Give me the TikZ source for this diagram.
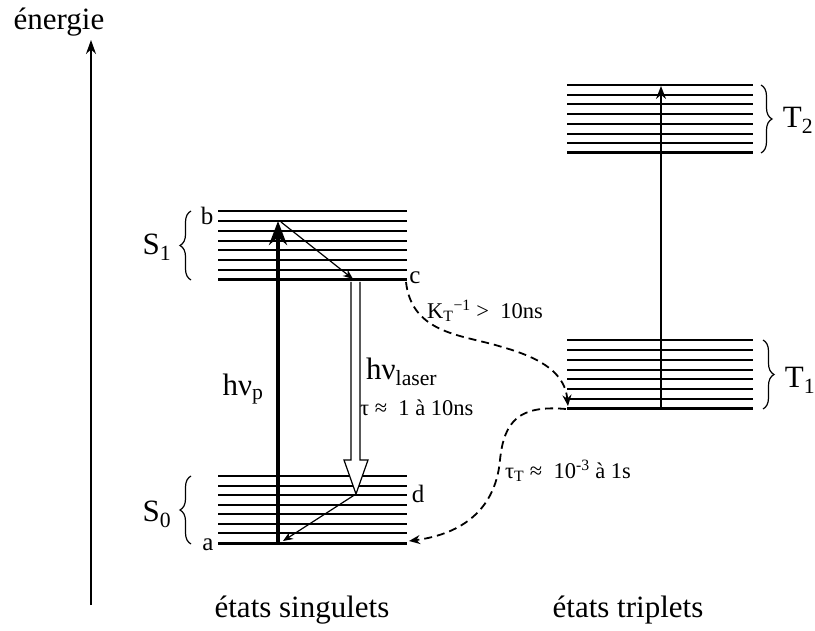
\documentclass[tikz,border=0pt]{standalone}
\usepackage{fontspec}
\setmainfont{Liberation Serif}
\usetikzlibrary{arrows.meta,decorations.pathreplacing}
\begin{document}
\begin{tikzpicture}[x=1pt,y=-1pt,
 lvl/.style={line width=2pt},
 lvlb/.style={line width=3pt},
 brc/.style={decorate,decoration={brace,amplitude=11pt},line width=1.2pt},
 big/.style={font=\fontsize{31}{33}\selectfont, inner sep=0pt},
 mid/.style={font=\fontsize{25}{27}\selectfont, inner sep=0pt},
 sml/.style={font=\fontsize{22.5}{24}\selectfont, inner sep=0pt},
 dsh/.style={line width=1.8pt, dash pattern=on 8pt off 5pt, -{Stealth[length=11pt,width=9pt]}},
 thinarr/.style={line width=1.2pt, -{Stealth[length=10pt,width=8pt]}},
]
\useasboundingbox (0,0) rectangle (815,631);
% energy axis
\coordinate (e0) at (91,605);
\coordinate (e1) at (91,40);
\draw[line width=1.4pt,-{Stealth[length=14pt,width=10pt]}] (e0) -- (e1);
\node[big] (en) at (59,22) {énergie};
% levels
\foreach \i in {0,...,6}{
 \pgfmathsetmacro\ya{211+\i*69/7}
 \pgfmathsetmacro\yb{476+\i*67/7}
 \pgfmathsetmacro\yc{85+\i*68/7}
 \pgfmathsetmacro\yd{340+\i*69/7}
 \draw[lvl] (218,\ya) -- (407,\ya);
 \draw[lvl] (218,\yb) -- (407,\yb);
 \draw[lvl] (567,\yc) -- (753,\yc);
 \draw[lvl] (567,\yd) -- (753,\yd);
}
\draw[lvlb] (218,280) -- (407,280);
\draw[lvlb] (218,543) -- (407,543);
\draw[lvlb] (567,153) -- (753,153);
\draw[lvlb] (567,409) -- (753,409);
% braces
\draw[brc] (191,280) -- (191,211);
\draw[brc] (191,544) -- (191,476);
\draw[brc] (761,85) -- (761,153);
\draw[brc] (763,340) -- (763,409);
\node[big] (s1) at (157,247) {S\textsubscript{1}};
\node[big] (s0) at (157,514) {S\textsubscript{0}};
\node[big] (t2) at (798,120) {T\textsubscript{2}};
\node[big] (t1) at (800,380) {T\textsubscript{1}};
% level letters
\node[mid] (la) at (208,545) {a};
\node[mid] (lb) at (207,216) {b};
\node[mid] (lc) at (415,278) {c};
\node[mid] (ld) at (418,494) {d};
% transitions
\coordinate (aP) at (278,543);
\coordinate (bP) at (278,221);
\coordinate (bD) at (281,222);
\coordinate (cD) at (353,279);
\coordinate (dD) at (356,494);
\coordinate (aD) at (283,541);
\draw[line width=1.2pt, fill=white] (351,282) -- (351,460) -- (344,460) -- (dD) -- (368,460) -- (360,460) -- (360,282);
\draw[thinarr] (bD) -- (cD);
\draw[thinarr] (dD) -- (aD);
\draw[line width=4.5pt,-{Stealth[length=24pt,width=18pt]}] (aP) -- (bP);
\coordinate (t1V) at (661,409);
\coordinate (t2V) at (661,86);
\draw[line width=1.3pt,-{Stealth[length=13pt,width=10pt]}] (t1V) -- (t2V);
% dashed
\coordinate (cS) at (406,282);
\coordinate (t1L) at (568,406);
\coordinate (t1B) at (566,409);
\coordinate (aR) at (409,541);
\draw[dsh] (cS) .. controls (412,335) and (465,335) .. (502,347) .. controls (545,359) and (565,375) .. (t1L);
\draw[dsh] (t1B) .. controls (520,405) and (504,420) .. (500,460) .. controls (495,515) and (455,535) .. (aR);
% labels
\node[big] (hp) at (243,389) {hν\textsubscript{p}};
\node[big,anchor=west] (hl) at (366,372) {hν\textsubscript{laser}};
\node[sml,anchor=west] (tau) at (360,408) {τ ≈ \ 1 à 10ns};
\node[sml,anchor=west] (kt) at (427,311) {K\textsubscript{T}\textsuperscript{−1} > \ 10ns};
\node[sml,anchor=west] (tt) at (505,471) {τ\textsubscript{T} ≈ \ 10\textsuperscript{-3} à 1s};
\node[big] (es) at (302,610) {états singulets};
\node[big] (et) at (628,610) {états triplets};
\end{tikzpicture}
\end{document}
